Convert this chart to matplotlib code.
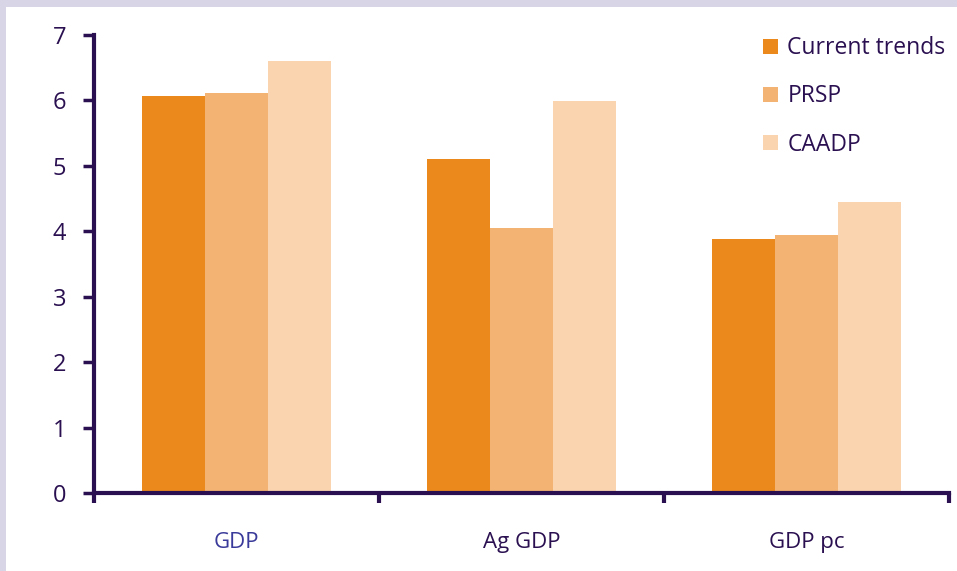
import matplotlib
matplotlib.use("Agg")
import matplotlib.pyplot as plt
import numpy as np
from matplotlib.patches import Patch

categories = ["GDP", "Ag GDP", "GDP pc"]
series = ["Current trends", "PRSP", "CAADP"]
current = [6.07, 5.10, 3.88]
prsp = [6.12, 4.05, 3.94]
caadp = [6.61, 5.99, 4.45]
colors = ["#EC891D", "#F3B373", "#FAD4AE"]
dark = "#2A1050"

plt.rcParams['font.family'] = ['Open Sans', 'DejaVu Sans']
fig = plt.figure(figsize=(9.57, 5.71), dpi=100)
fig.patch.set_facecolor("#D8D6E6")
# white panel
bg = fig.add_axes([6/957, 0, 1 - 6/957, 1 - 7/571])
bg.set_facecolor("white")
bg.set_xticks([]); bg.set_yticks([])
for s in bg.spines.values():
    s.set_visible(False)
bg.set_zorder(0)

left = 94/957; right = 949/957
bottom = 1 - 493/571; top = 1 - 35/571
ax = fig.add_axes([left, bottom, right - left, top - bottom])
ax.set_facecolor("none")
ax.set_zorder(1)

x = np.arange(len(categories))
w = 0.222
for i, (vals, c) in enumerate(zip([current, prsp, caadp], colors)):
    ax.bar(x + (i - 1) * w, vals, width=w, color=c, edgecolor="none", zorder=2)

ax.set_xlim(-0.5, 2.5)
ax.set_ylim(0, 7)
ax.set_yticks(range(0, 8))
ax.set_xticks([-0.5, 0.5, 1.5, 2.5])
ax.set_xticklabels([])
ax.set_xticks(x, minor=True)
ax.set_xticklabels(categories, minor=True)
ax.tick_params(axis='x', which='minor', length=0, pad=28, labelsize=16)
ax.tick_params(axis='x', which='major', length=7, width=3, color=dark, direction='out')
ax.tick_params(axis='y', length=8, width=2.5, color=dark, labelsize=17, labelcolor=dark, pad=12)
for lab, col in zip(ax.get_xticklabels(minor=True), ["#3A3A9A", dark, dark]):
    lab.set_color(col)
for s in ["top", "right"]:
    ax.spines[s].set_visible(False)
for s in ["left", "bottom"]:
    ax.spines[s].set_color(dark)
    ax.spines[s].set_linewidth(3)

handles = [Patch(facecolor=c, edgecolor="none") for c in colors]
leg = ax.legend(handles, series, loc="upper right", bbox_to_anchor=(1.02, 1.042),
                frameon=False, fontsize=16.5, handlelength=0.65, handleheight=0.65,
                handletextpad=0.4, labelspacing=1.05, labelcolor=dark)

fig.savefig("out.png", dpi=100, facecolor=fig.get_facecolor())
